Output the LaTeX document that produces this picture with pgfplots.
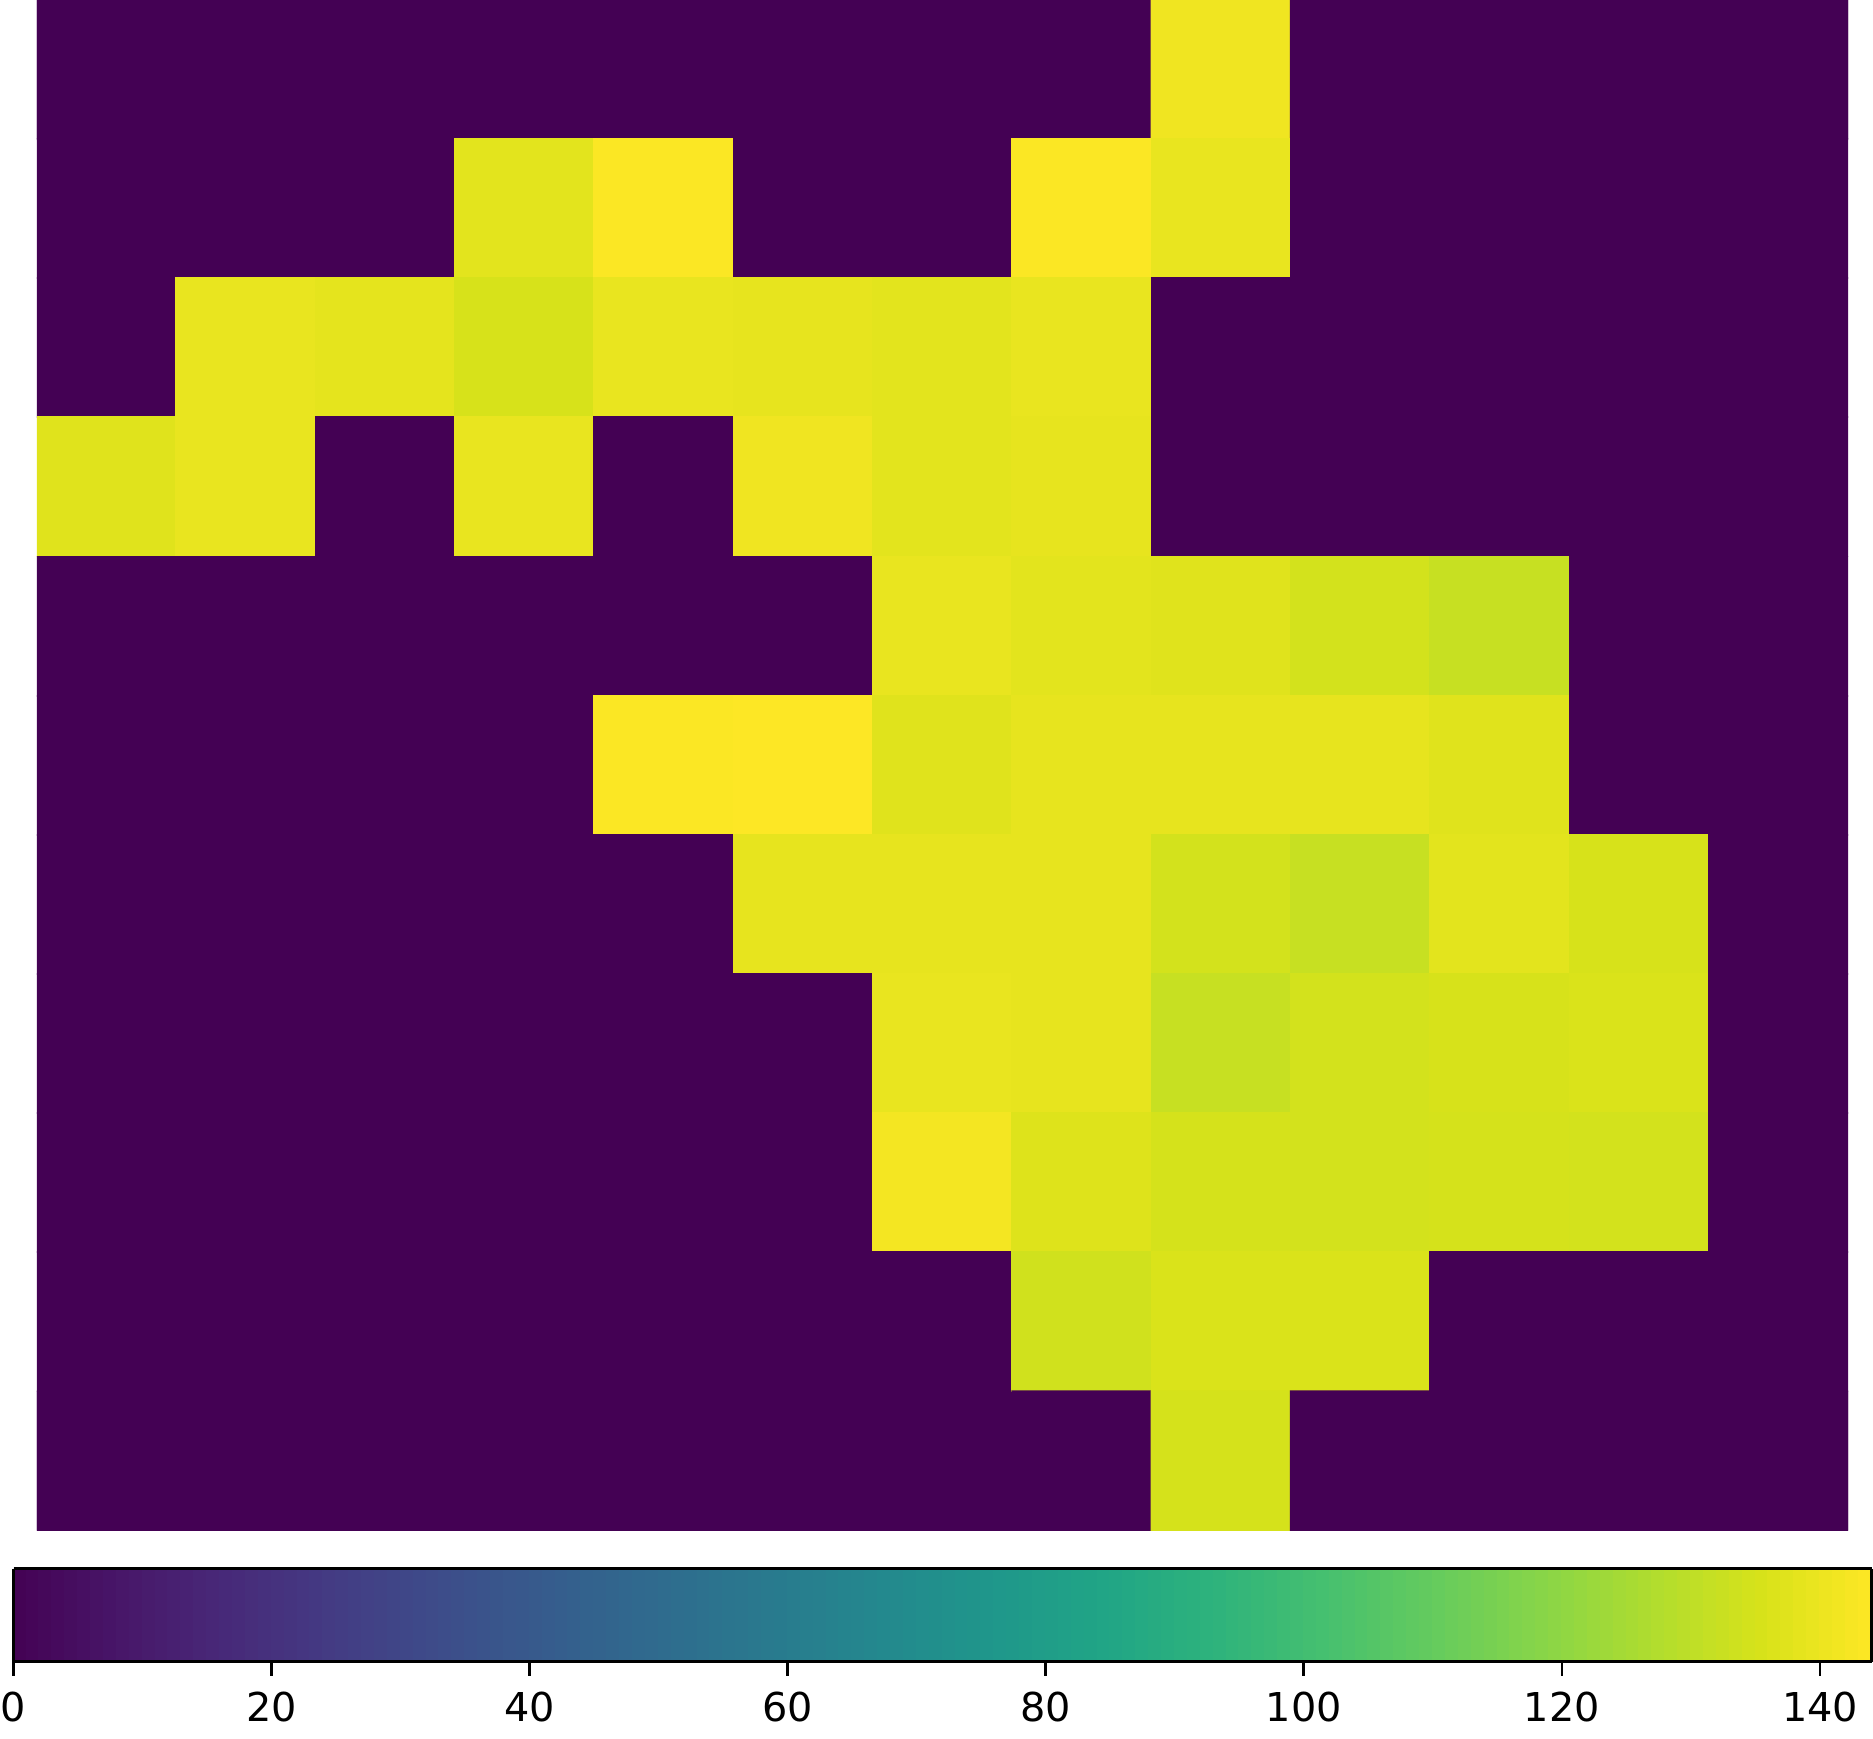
\documentclass[border=0pt]{standalone}
\usepackage{fontspec}
\setmainfont{DejaVu Sans}
\usepackage{pgfplots}
\pgfplotsset{compat=1.18}
\usepackage{pgfplotstable}
\usetikzlibrary{calc}

% grid values, row by row (y = 0 is the top row)
\pgfplotstableread[row sep=\\]{
x y c\\
0 0 0\\ 1 0 0\\ 2 0 0\\ 3 0 0\\ 4 0 0\\ 5 0 0\\ 6 0 0\\ 7 0 0\\ 8 0 141\\ 9 0 0\\ 10 0 0\\ 11 0 0\\ 12 0 0\\
0 1 0\\ 1 1 0\\ 2 1 0\\ 3 1 138\\ 4 1 143.5\\ 5 1 0\\ 6 1 0\\ 7 1 143.5\\ 8 1 139.5\\ 9 1 0\\ 10 1 0\\ 11 1 0\\ 12 1 0\\
0 2 0\\ 1 2 139.5\\ 2 2 138.5\\ 3 2 135.5\\ 4 2 139.5\\ 5 2 139\\ 6 2 138\\ 7 2 139.5\\ 8 2 0\\ 9 2 0\\ 10 2 0\\ 11 2 0\\ 12 2 0\\
0 3 137.5\\ 1 3 139.5\\ 2 3 0\\ 3 3 139.5\\ 4 3 0\\ 5 3 141\\ 6 3 138\\ 7 3 139\\ 8 3 0\\ 9 3 0\\ 10 3 0\\ 11 3 0\\ 12 3 0\\
0 4 0\\ 1 4 0\\ 2 4 0\\ 3 4 0\\ 4 4 0\\ 5 4 0\\ 6 4 139.5\\ 7 4 138\\ 8 4 137.5\\ 9 4 134.5\\ 10 4 132\\ 11 4 0\\ 12 4 0\\
0 5 0\\ 1 5 0\\ 2 5 0\\ 3 5 0\\ 4 5 143.5\\ 5 5 144\\ 6 5 137.5\\ 7 5 139\\ 8 5 139\\ 9 5 139\\ 10 5 137.5\\ 11 5 0\\ 12 5 0\\
0 6 0\\ 1 6 0\\ 2 6 0\\ 3 6 0\\ 4 6 0\\ 5 6 139\\ 6 6 139\\ 7 6 139\\ 8 6 134.5\\ 9 6 132\\ 10 6 138\\ 11 6 135.5\\ 12 6 0\\
0 7 0\\ 1 7 0\\ 2 7 0\\ 3 7 0\\ 4 7 0\\ 5 7 0\\ 6 7 139.5\\ 7 7 139\\ 8 7 132\\ 9 7 134.5\\ 10 7 135.5\\ 11 7 136\\ 12 7 0\\
0 8 0\\ 1 8 0\\ 2 8 0\\ 3 8 0\\ 4 8 0\\ 5 8 0\\ 6 8 142\\ 7 8 137\\ 8 8 135\\ 9 8 134.5\\ 10 8 135\\ 11 8 134.5\\ 12 8 0\\
0 9 0\\ 1 9 0\\ 2 9 0\\ 3 9 0\\ 4 9 0\\ 5 9 0\\ 6 9 0\\ 7 9 134\\ 8 9 136\\ 9 9 136\\ 10 9 0\\ 11 9 0\\ 12 9 0\\
0 10 0\\ 1 10 0\\ 2 10 0\\ 3 10 0\\ 4 10 0\\ 5 10 0\\ 6 10 0\\ 7 10 0\\ 8 10 135\\ 9 10 0\\ 10 10 0\\ 11 10 0\\ 12 10 0\\
}\grid

\begin{document}
\begin{tikzpicture}
\begin{axis}[
  name=main,
  width=387pt, height=327pt, scale only axis,
  hide axis, enlargelimits=false,
  xmin=-0.5, xmax=12.5, ymin=-0.5, ymax=10.5, y dir=reverse,
  colormap/viridis, point meta min=0, point meta max=144,
  colorbar horizontal, colorbar sampled,
  colorbar style={
    name=cb, samples=145,
    y dir=normal, enlargelimits=false,
    width=397pt, height=19.9pt,
    at={(0.5,-0.025)}, anchor=north,
    xtick={0,20,...,140}, xtick align=outside,
    xtick pos=left, xticklabel pos=left,
    ytick=\empty,
    major tick length=3pt,
    tick style={black, line width=0.6pt},
    axis line style={line width=0.6pt},
    xticklabel style={font=\fontsize{8.5}{10}\selectfont},
    /pgf/number format/assume math mode=true,
    scaled x ticks=false,
  },
]
\addplot[matrix plot*, mesh/cols=13, point meta=explicit] table[x=x, y=y, meta=c] {\grid};
\end{axis}
\pgfresetboundingbox
\coordinate (L) at ($(cb.south west)+(-2.9pt,0)$);
\path (L |- cb.outer south) rectangle ($(cb.north east |- main.north)+(0.3pt,0)$);
\end{tikzpicture}
\end{document}
